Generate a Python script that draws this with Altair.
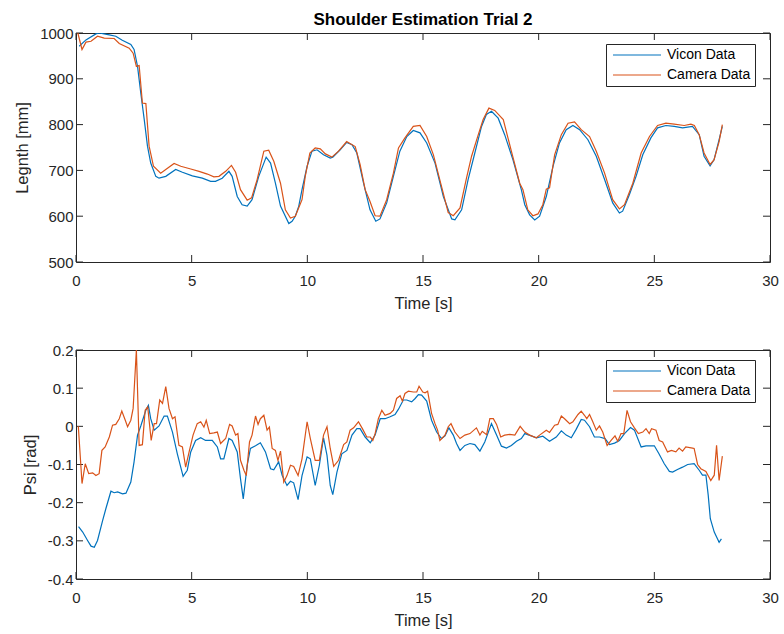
import altair as alt
import pandas as pd

# ---------------- data ----------------
top_vicon_t = [0.14, 0.43, 0.86, 1.0, 1.44, 1.72, 2.0, 2.37, 2.51, 2.66, 2.8, 2.95, 3.09, 3.23, 3.45, 3.59, 3.88, 4.31, 4.6, 5.03, 5.46, 5.82, 6.03, 6.32, 6.61, 6.75, 6.97, 7.18, 7.4, 7.61, 7.9, 8.22, 8.41, 8.62, 8.84, 9.2, 9.34, 9.48, 9.63, 9.77, 9.99, 10.2, 10.42, 10.7, 10.99, 11.1, 11.42, 11.7, 11.93, 12.14, 12.43, 12.71, 12.96, 13.14, 13.43, 13.72, 14.0, 14.3, 14.58, 14.87, 15.16, 15.52, 15.88, 16.24, 16.38, 16.67, 16.95, 17.24, 17.53, 17.74, 17.96, 18.25, 18.53, 18.89, 19.25, 19.4, 19.61, 19.83, 20.04, 20.33, 20.62, 20.9, 21.19, 21.48, 21.77, 22.13, 22.49, 22.85, 23.2, 23.49, 23.63, 23.92, 24.21, 24.5, 24.85, 25.14, 25.5, 25.86, 26.22, 26.65, 26.94, 27.15, 27.41, 27.58, 27.8, 27.94]
top_vicon_v = [971, 985, 998, 1000, 996, 993, 984, 975, 964, 927, 869, 811, 753, 716, 687, 683, 687, 702, 696, 688, 683, 676, 676, 683, 698, 687, 643, 625, 622, 636, 687, 729, 716, 672, 622, 584, 589, 600, 622, 658, 709, 742, 745, 734, 727, 729, 745, 761, 756, 738, 672, 614, 589, 594, 629, 687, 742, 774, 787, 782, 760, 716, 643, 594, 592, 614, 680, 738, 796, 822, 829, 814, 778, 723, 658, 625, 603, 592, 600, 643, 709, 760, 789, 798, 789, 767, 731, 680, 629, 607, 611, 647, 687, 734, 771, 793, 798, 796, 793, 796, 778, 731, 710, 723, 767, 796]

top_camera_t = [0.08, 0.26, 0.43, 0.65, 0.93, 1.22, 1.65, 1.87, 2.3, 2.47, 2.61, 2.73, 2.87, 3.02, 3.16, 3.35, 3.66, 3.88, 4.24, 4.53, 4.96, 5.32, 5.68, 5.96, 6.18, 6.47, 6.72, 6.9, 7.11, 7.4, 7.59, 7.83, 8.12, 8.33, 8.55, 8.84, 9.05, 9.27, 9.48, 9.77, 9.91, 10.11, 10.34, 10.56, 10.78, 11.06, 11.35, 11.7, 12.07, 12.28, 12.5, 12.71, 12.93, 13.14, 13.43, 13.72, 13.94, 14.22, 14.58, 14.87, 15.16, 15.45, 15.8, 16.09, 16.31, 16.6, 16.88, 17.1, 17.39, 17.6, 17.85, 18.1, 18.47, 18.82, 19.18, 19.32, 19.53, 19.75, 19.97, 20.18, 20.33, 20.47, 20.69, 20.98, 21.27, 21.55, 21.84, 22.2, 22.49, 22.85, 23.2, 23.49, 23.71, 24.07, 24.43, 24.79, 25.14, 25.5, 25.86, 26.29, 26.58, 26.73, 26.94, 27.15, 27.41, 27.58, 27.8, 27.94]
top_camera_v = [1000, 964, 980, 982, 993, 989, 988, 977, 967, 956, 927, 929, 847, 846, 753, 709, 694, 702, 715, 709, 703, 698, 692, 686, 687, 698, 711, 696, 658, 635, 640, 680, 742, 744, 720, 672, 614, 596, 600, 636, 687, 738, 749, 747, 736, 729, 742, 763, 752, 713, 658, 632, 601, 600, 636, 694, 749, 771, 796, 798, 774, 734, 665, 608, 601, 618, 683, 731, 778, 811, 836, 831, 811, 742, 672, 658, 614, 601, 605, 625, 659, 662, 734, 778, 803, 806, 789, 774, 742, 694, 636, 616, 625, 672, 738, 774, 798, 803, 801, 798, 801, 798, 778, 738, 713, 723, 763, 800]

bot_vicon_t = [0.11, 0.29, 0.5, 0.65, 0.79, 0.93, 1.15, 1.29, 1.51, 1.65, 1.8, 2.01, 2.16, 2.37, 2.51, 2.66, 2.8, 2.9, 3.02, 3.13, 3.23, 3.38, 3.59, 3.81, 3.95, 4.17, 4.38, 4.63, 4.81, 4.96, 5.17, 5.39, 5.6, 5.89, 6.11, 6.25, 6.39, 6.61, 6.75, 6.97, 7.11, 7.23, 7.4, 7.54, 7.76, 7.97, 8.19, 8.41, 8.55, 8.76, 8.91, 9.12, 9.27, 9.41, 9.6, 9.77, 9.99, 10.13, 10.34, 10.52, 10.7, 10.85, 10.99, 11.1, 11.28, 11.49, 11.71, 11.93, 12.14, 12.28, 12.5, 12.72, 12.93, 13.15, 13.36, 13.58, 13.79, 13.94, 14.15, 14.3, 14.51, 14.66, 14.8, 14.94, 15.16, 15.37, 15.59, 15.8, 15.95, 16.12, 16.31, 16.45, 16.6, 16.81, 17.03, 17.24, 17.46, 17.67, 17.96, 18.18, 18.39, 18.61, 18.82, 19.04, 19.25, 19.4, 19.68, 19.9, 20.18, 20.47, 20.76, 20.98, 21.19, 21.41, 21.62, 21.84, 21.98, 22.2, 22.41, 22.63, 22.87, 23.06, 23.28, 23.49, 23.71, 23.97, 24.14, 24.43, 24.64, 25.0, 25.2, 25.43, 25.65, 25.79, 26.0, 26.22, 26.44, 26.72, 26.94, 27.08, 27.23, 27.33, 27.42, 27.59, 27.8, 27.9]
bot_vicon_v = [-0.263, -0.277, -0.299, -0.314, -0.317, -0.299, -0.247, -0.216, -0.17, -0.174, -0.172, -0.177, -0.175, -0.146, -0.093, -0.023, 0.001, 0.02, 0.042, 0.055, 0.02, -0.01, 0.001, 0.027, 0.027, -0.015, -0.072, -0.131, -0.115, -0.067, -0.037, -0.03, -0.037, -0.037, -0.054, -0.085, -0.085, -0.032, -0.037, -0.067, -0.137, -0.19, -0.102, -0.058, -0.051, -0.043, -0.067, -0.111, -0.114, -0.093, -0.128, -0.155, -0.144, -0.148, -0.192, -0.129, -0.08, -0.085, -0.155, -0.102, -0.03, -0.076, -0.155, -0.179, -0.12, -0.072, -0.063, -0.023, -0.006, -0.006, -0.028, -0.043, -0.023, 0.02, 0.02, 0.025, 0.031, 0.045, 0.069, 0.069, 0.064, 0.073, 0.083, 0.082, 0.066, 0.016, -0.015, -0.032, -0.025, -0.004, -0.023, -0.045, -0.063, -0.05, -0.045, -0.048, -0.065, -0.041, 0.007, -0.023, -0.052, -0.057, -0.05, -0.039, -0.032, -0.019, -0.025, -0.03, -0.026, -0.039, -0.028, -0.012, -0.023, -0.03, -0.008, 0.018, 0.016, -0.001, -0.028, -0.028, -0.032, -0.048, -0.044, -0.037, -0.019, -0.003, -0.01, -0.054, -0.051, -0.051, -0.072, -0.098, -0.118, -0.12, -0.113, -0.107, -0.1, -0.098, -0.115, -0.128, -0.128, -0.181, -0.242, -0.277, -0.304, -0.295]

bot_camera_t = [0.1, 0.26, 0.4, 0.55, 0.72, 0.86, 1.0, 1.12, 1.26, 1.44, 1.58, 1.72, 1.87, 1.98, 2.13, 2.23, 2.37, 2.47, 2.61, 2.73, 2.87, 2.99, 3.1, 3.25, 3.38, 3.48, 3.62, 3.74, 3.88, 4.02, 4.17, 4.28, 4.45, 4.6, 4.74, 4.89, 5.06, 5.24, 5.39, 5.53, 5.63, 5.78, 5.96, 6.11, 6.25, 6.47, 6.64, 6.75, 6.9, 7.0, 7.11, 7.26, 7.36, 7.5, 7.61, 7.76, 7.87, 7.97, 8.12, 8.26, 8.36, 8.48, 8.62, 8.73, 8.84, 8.98, 9.12, 9.27, 9.41, 9.6, 9.77, 9.99, 10.13, 10.34, 10.52, 10.7, 10.85, 10.99, 11.14, 11.35, 11.57, 11.71, 11.85, 12.0, 12.21, 12.38, 12.57, 12.72, 12.83, 12.93, 13.07, 13.22, 13.36, 13.58, 13.72, 13.86, 14.01, 14.11, 14.22, 14.37, 14.58, 14.73, 14.83, 14.99, 15.09, 15.2, 15.37, 15.52, 15.63, 15.73, 15.95, 16.09, 16.21, 16.38, 16.6, 16.81, 17.03, 17.31, 17.46, 17.56, 17.75, 17.89, 18.04, 18.18, 18.36, 18.53, 18.75, 18.97, 19.2, 19.4, 19.61, 19.9, 20.04, 20.33, 20.47, 20.69, 20.83, 20.98, 21.12, 21.34, 21.48, 21.7, 21.84, 21.98, 22.08, 22.2, 22.34, 22.49, 22.63, 22.77, 22.96, 23.13, 23.3, 23.42, 23.56, 23.68, 23.82, 23.97, 24.14, 24.31, 24.5, 24.64, 24.78, 24.88, 25.07, 25.21, 25.36, 25.57, 25.74, 25.93, 26.07, 26.22, 26.36, 26.65, 26.72, 26.87, 27.01, 27.23, 27.44, 27.59, 27.69, 27.8, 27.94]
bot_camera_v = [0.0, -0.15, -0.098, -0.124, -0.122, -0.129, -0.124, -0.063, -0.054, -0.028, 0.003, 0.005, 0.02, 0.04, 0.016, -0.001, 0.016, 0.047, 0.2, -0.05, -0.048, 0.042, 0.051, -0.037, 0.007, 0.007, 0.069, 0.06, 0.104, 0.047, 0.02, 0.025, -0.05, -0.054, -0.107, -0.067, -0.023, 0.007, 0.012, -0.002, 0.016, -0.019, -0.017, -0.015, -0.045, -0.032, 0.005, 0.001, -0.023, -0.019, -0.089, -0.115, -0.129, -0.041, -0.023, 0.027, 0.005, 0.02, 0.029, -0.01, -0.002, -0.058, -0.063, -0.089, -0.065, -0.146, -0.129, -0.102, -0.105, -0.129, -0.085, 0.012, -0.032, -0.089, -0.089, -0.023, -0.001, -0.058, -0.105, -0.089, -0.048, -0.041, -0.01, -0.004, 0.012, -0.006, -0.028, -0.028, -0.037, -0.019, 0.02, 0.042, 0.029, 0.034, 0.042, 0.073, 0.08, 0.066, 0.086, 0.092, 0.09, 0.09, 0.105, 0.09, 0.088, 0.092, 0.034, 0.007, -0.01, -0.037, -0.023, -0.001, 0.007, -0.015, -0.032, -0.023, -0.019, -0.004, -0.023, -0.013, -0.022, 0.02, 0.02, 0.005, -0.028, -0.023, -0.021, -0.023, 0.0, -0.015, -0.023, -0.03, -0.023, -0.01, -0.016, 0.003, 0.005, 0.027, 0.02, 0.007, 0.012, 0.031, 0.04, 0.029, 0.02, 0.031, 0.012, -0.01, 0.001, -0.015, -0.05, -0.037, -0.025, -0.039, -0.019, -0.019, 0.042, 0.012, -0.004, -0.019, -0.015, -0.006, -0.019, -0.006, -0.01, -0.037, -0.041, -0.067, -0.063, -0.067, -0.057, -0.065, -0.054, -0.057, -0.058, -0.1, -0.111, -0.118, -0.142, -0.128, -0.05, -0.142, -0.078]

series_names = ["Vicon Data", "Camera Data"]
series_colors = ["#0072BD", "#D95319"]

x_ticks = [0, 5, 10, 15, 20, 25, 30]
top_y_ticks = [500, 600, 700, 800, 900, 1000]
bot_y_ticks = [-0.4, -0.3, -0.2, -0.1, 0, 0.1, 0.2]

# ---------------- styling ----------------
W, H = 694, 229
TICK = 7
AX = "#262626"
FONT = "Liberation Sans"


def panel(vt, vv, ct, cv, ydom, yticks, ytitle, ylabel_expr, legend_y, title=None):
    df = pd.concat([
        pd.DataFrame({"t": vt, "v": vv, "s": series_names[0]}),
        pd.DataFrame({"t": ct, "v": cv, "s": series_names[1]}),
    ], ignore_index=True)

    xaxis = alt.Axis(values=x_ticks, title="Time [s]", ticks=False, domain=False,
                     grid=False, labelFontSize=15, titleFontSize=16.5,
                     labelPadding=11, titlePadding=7, titleFontWeight="normal",
                     labelFlush=False)
    yaxis = alt.Axis(values=yticks, title=ytitle, ticks=False, domain=False,
                     grid=False, labelFontSize=15, titleFontSize=16.5,
                     labelPadding=3, titlePadding=9, titleFontWeight="normal",
                     labelExpr=ylabel_expr, labelFlush=False)

    xenc = alt.X("t:Q", scale=alt.Scale(domain=[0, 30], nice=False, zero=False), axis=xaxis)
    yenc = alt.Y("v:Q", scale=alt.Scale(domain=ydom, nice=False, zero=False), axis=yaxis)

    lines = alt.Chart(df).mark_line(clip=True, strokeWidth=1.2).encode(
        color=alt.Color("s:N", sort=series_names,
                        scale=alt.Scale(domain=series_names, range=series_colors),
                        legend=alt.Legend(orient="none", legendX=530, legendY=legend_y,
                                          title=None, symbolType="M-4,0H4",
                                          symbolSize=144, symbolStrokeWidth=1.2,
                                          symbolOffset=20,
                                          labelFontSize=14, labelFont=FONT,
                                          labelColor="black", labelOffset=23,
                                          strokeColor=AX, fillColor="white",
                                          padding=4, rowPadding=6,
                                          cornerRadius=0)),
    )

    xt = pd.DataFrame({"t": x_ticks})
    yt = pd.DataFrame({"v": yticks})
    tick_bottom = alt.Chart(xt).mark_rule(color=AX, strokeWidth=1).encode(
        y=alt.value(H), y2=alt.value(H - TICK))
    tick_top = alt.Chart(xt).mark_rule(color=AX, strokeWidth=1).encode(
        y=alt.value(0), y2=alt.value(TICK))
    tick_left = alt.Chart(yt).mark_rule(color=AX, strokeWidth=1).encode(
        x=alt.value(0), x2=alt.value(TICK))
    tick_right = alt.Chart(yt).mark_rule(color=AX, strokeWidth=1).encode(
        x=alt.value(W), x2=alt.value(W - TICK))

    ch = alt.layer(tick_bottom, tick_top, tick_left, tick_right, lines).encode(
        x=xenc, y=yenc).properties(width=W, height=H)
    if title is not None:
        ch = ch.properties(title=alt.TitleParams(title, fontSize=17, fontWeight="bold",
                                                 font=FONT, color="black", offset=-3,
                                                 anchor="middle"))
    return ch


top = panel(top_vicon_t, top_vicon_v, top_camera_t, top_camera_v, [500, 1000],
            top_y_ticks, "Legnth [mm]", "toString(datum.value)", 11,
            title="Shoulder Estimation Trial 2")
bottom = panel(bot_vicon_t, bot_vicon_v, bot_camera_t, bot_camera_v, [-0.4, 0.2],
               bot_y_ticks, "Psi [rad]", "toString(round(datum.value*10)/10)", 10)

chart = alt.vconcat(top, bottom, spacing=30).resolve_legend(color="independent").properties(
    padding={"left": 14, "top": 10, "right": 0, "bottom": 0}
).configure(font=FONT).configure_view(stroke=AX, strokeWidth=1).configure_axis(
    labelColor=AX, titleColor=AX, labelFont=FONT, titleFont=FONT
)

chart.save("out.html", embed_options={"renderer": "svg", "actions": False})
